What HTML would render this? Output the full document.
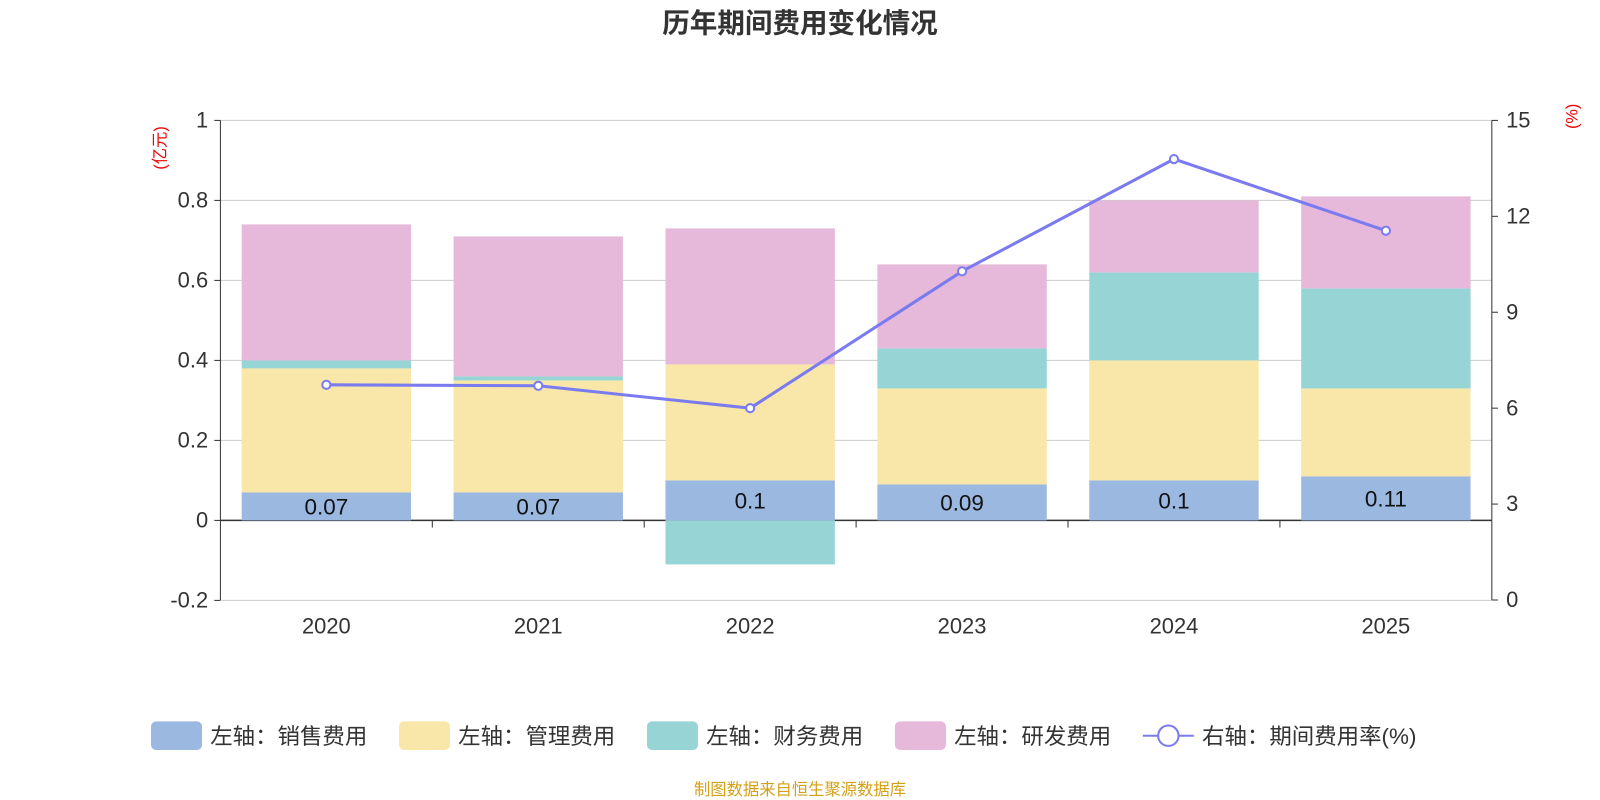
<!DOCTYPE html>
<html><head><meta charset="utf-8">
<style>
html,body{margin:0;padding:0;background:#fff;}
svg{display:block;font-family:"Liberation Sans","Noto Sans CJK SC",sans-serif;}
</style></head>
<body>
<svg id="chart" width="1600" height="800" viewBox="0 0 1600 800">
<g transform="scale(1.0204)">
<text x="784" y="32" text-anchor="middle" font-size="27" font-weight="bold" fill="#333">历年期间费用变化情况</text>
<text transform="translate(162,145) rotate(-90)" text-anchor="middle" font-size="16" fill="#e00">(亿元)</text>
<text transform="translate(1546,114) rotate(-90)" text-anchor="middle" font-size="16" fill="#e00">(%)</text>
<g id="grid"></g><g id="bars"></g><g id="axes"></g><g id="line"></g><g id="legend"></g>
<text x="784" y="779" text-anchor="middle" font-size="16" fill="#d4a017">制图数据来自恒生聚源数据库</text>
</g>
</svg>
<script>
const categories=["2020","2021","2022","2023","2024","2025"];
const sales=[0.07,0.07,0.10,0.09,0.10,0.11];
const mgmt=[0.31,0.28,0.29,0.24,0.30,0.22];
const fin=[0.02,0.01,-0.11,0.10,0.22,0.25];
const rd=[0.34,0.35,0.34,0.21,0.18,0.23];
const rate=[6.73,6.70,6.0,10.28,13.79,11.55];
const leftTicks=[-0.2,0,0.2,0.4,0.6,0.8,1];
const rightTicks=[0,3,6,9,12,15];
const NS="http://www.w3.org/2000/svg";
const X0=216,X1=1462,TOP=118,BOT=588;
const yL=v=>510-v*392;
const yR=v=>BOT-v/15*(BOT-TOP);
const band=(X1-X0)/categories.length;
const xC=i=>X0+band*(i+0.5);
const BW=166;
function mk(tag,attrs,parent,text){const e=document.createElementNS(NS,tag);for(const k in attrs)e.setAttribute(k,attrs[k]);if(text!==undefined)e.textContent=text;parent.appendChild(e);return e;}
const g=document.getElementById('grid'),b=document.getElementById('bars'),a=document.getElementById('axes'),l=document.getElementById('line'),lg=document.getElementById('legend');
leftTicks.forEach(t=>{
  const y=yL(t);
  const gl=mk('line',{x1:X0,x2:X1,y1:y,y2:y,stroke:t===0?'#333':'#ccc','stroke-width':t===0?1.5:1},g);
  
  
  mk('line',{x1:X0-6,x2:X0,y1:y,y2:y,stroke:'#333'},a);
  const tx=mk('text',{x:X0-12,y:y+7,'text-anchor':'end','font-size':21.5,fill:'#333'},a,String(t));
  
  
});
rightTicks.forEach(t=>{
  const y=yR(t);
  mk('line',{x1:X1,x2:X1+6,y1:y,y2:y,stroke:'#333'},a);
  const tx=mk('text',{x:X1+14,y:y+7,'font-size':21.5,fill:'#333'},a,String(t));
  
  
});
mk('line',{x1:X0,x2:X0,y1:TOP,y2:BOT,stroke:'#333'},a);
mk('line',{x1:X1,x2:X1,y1:TOP,y2:BOT,stroke:'#333'},a);
for(let i=1;i<categories.length;i++){mk('line',{x1:X0+band*i,x2:X0+band*i,y1:510,y2:517,stroke:'#333'},a);}
categories.forEach((c,i)=>{
  const tx=mk('text',{x:xC(i),y:621,'text-anchor':'middle','font-size':21.5,fill:'#333'},a,c);
  
  
});
const series=[[sales,'#9bb8e1','sales'],[mgmt,'#f8e7a8','mgmt'],[fin,'#97d4d5','fin'],[rd,'#e6b8d9','rd']];
categories.forEach((c,i)=>{
  let pos=0,neg=0;
  series.forEach(([arr,col,nm])=>{
    const v=arr[i];let y0,y1;
    if(v>=0){y0=pos;y1=pos+v;pos=y1;}else{y0=neg;y1=neg+v;neg=y1;}
    const top=Math.min(yL(y0),yL(y1)),h=Math.abs(yL(y1)-yL(y0));
    const r=mk('rect',{x:xC(i)-BW/2,y:top,width:BW,height:h,fill:col},b);
    
    
    if(nm==='sales'){
      const t=mk('text',{x:xC(i),y:top+h/2+8,'text-anchor':'middle','font-size':22,fill:'#111'},b,String(v));
      
      
    }
  });
});
const pts=rate.map((v,i)=>xC(i)+','+yR(v)).join(' ');
const pl=mk('polyline',{points:pts,fill:'none',stroke:'#7b7bf0','stroke-width':3},l);


rate.forEach((v,i)=>{
  const cc=mk('circle',{cx:xC(i),cy:yR(v),r:4,fill:'#fff',stroke:'#7b7bf0','stroke-width':2},l);
  
  
});
const items=[['#9bb8e1','左轴：销售费用',148],['#f8e7a8','左轴：管理费用',391],['#97d4d5','左轴：财务费用',634],['#e6b8d9','左轴：研发费用',877]];
items.forEach(([col,txt,x])=>{
  const r=mk('rect',{x:x,y:707,width:50,height:28,rx:5,fill:col},lg);
  
  
  const t=mk('text',{x:x+58,y:729,'font-size':22,fill:'#333'},lg,txt);
  
  
});
mk('line',{x1:1120,x2:1170,y1:721,y2:721,stroke:'#7b7bf0','stroke-width':2},lg);
const lc=mk('circle',{cx:1145,cy:721,r:10,fill:'#fff',stroke:'#7b7bf0','stroke-width':2},lg);


const lt=mk('text',{x:1178,y:729,'font-size':22,fill:'#333'},lg,'右轴：期间费用率(%)');


</script>
</body></html>
